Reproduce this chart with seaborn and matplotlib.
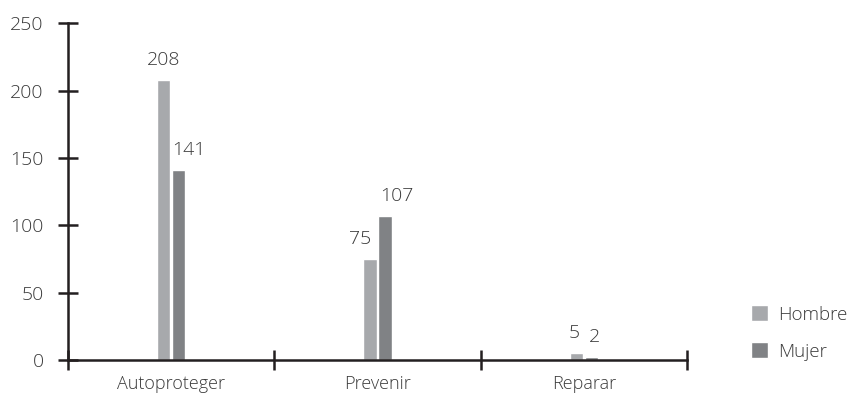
import matplotlib
matplotlib.use("Agg")
import matplotlib.pyplot as plt
import seaborn as sns
import pandas as pd

categories = ["Autoproteger", "Prevenir", "Reparar"]
hombre = [208, 75, 5]
mujer = [141, 107, 2]
series_names = ["Hombre", "Mujer"]
y_ticks = [0, 50, 100, 150, 200, 250]

# horizontal nudges (points) of the value labels, per series
label_dx = {"Hombre": [0, -7, -1.2], "Mujer": [7, 8.5, 2.2]}

df = pd.DataFrame({
    "categoria": categories * 2,
    "sexo": [series_names[0]] * 3 + [series_names[1]] * 3,
    "valor": hombre + mujer,
})

sns.set_theme(style="white")
plt.rcParams["font.family"] = ["Open Sans", "DejaVu Sans"]
plt.rcParams["font.weight"] = "light"

text_color = "#3a3a3a"
axis_color = "#231f20"
palette = {"Hombre": "#a7a9ac", "Mujer": "#808285"}

fig = plt.figure(figsize=(8.5, 3.96), dpi=100)
ax = fig.add_axes([68 / 850, 1 - 360 / 396, (687 - 68) / 850, (360 - 23.3) / 396])

sns.barplot(data=df, x="categoria", y="valor", hue="sexo", order=categories,
            hue_order=series_names, palette=palette, width=0.145, gap=0.12,
            saturation=1, ax=ax, legend=True)

label_pad = 8
for name, cont in zip(series_names, ax.containers):
    labels = ax.bar_label(cont, padding=label_pad, fontsize=14, color=text_color)
    for lab, dx in zip(labels, label_dx[name]):
        lab.xyann = (dx, label_pad)

ax.set_xlim(-0.5, 2.5)
ax.set_ylim(0, 250)
ax.set_xlabel("")
ax.set_ylabel("")

for side in ("top", "right"):
    ax.spines[side].set_visible(False)
for side in ("left", "bottom"):
    ax.spines[side].set_color(axis_color)
    ax.spines[side].set_linewidth(1.8)

# Category boundaries carry the crossing ticks; names sit at centres
ax.set_xticks([-0.5, 0.5, 1.5, 2.5])
ax.set_xticklabels([])
ax.set_xticks([0, 1, 2], minor=True)
ax.set_xticklabels(categories, minor=True)
ax.tick_params(axis="x", which="major", direction="inout", length=14,
               width=1.8, color=axis_color, bottom=True)
ax.tick_params(axis="x", which="minor", length=0, pad=11, labelsize=13,
               labelcolor=text_color, bottom=True)

ax.set_yticks(y_ticks)
ax.tick_params(axis="y", direction="inout", length=15, width=1.8,
               color=axis_color, pad=10, labelsize=14, labelcolor=text_color,
               left=True)

leg = ax.legend(loc="center left", bbox_to_anchor=(751 / 850, 1 - 333 / 396),
                bbox_transform=fig.transFigure, frameon=False, fontsize=13.5,
                handlelength=0.88, handleheight=0.88, handletextpad=0.55,
                labelspacing=1.0, borderpad=0, borderaxespad=0)
for t in leg.get_texts():
    t.set_color(text_color)

fig.savefig("out.png", dpi=100)
